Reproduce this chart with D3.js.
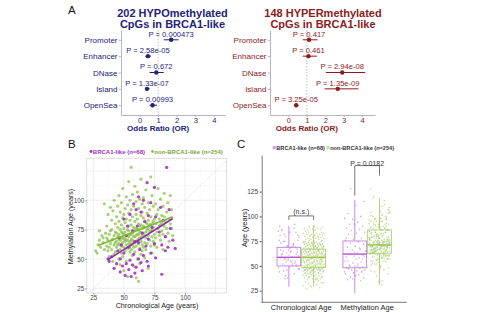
<!DOCTYPE html>
<html><head><meta charset="utf-8">
<script src="https://cdn.jsdelivr.net/npm/d3@7"></script>
<style>body{margin:0;background:#fff}svg{display:block;font-family:"Liberation Sans",Arial,sans-serif}</style>
</head><body>
<script>
// ---------- Panel A data ----------
const regions = ["Promoter","Enhancer","DNase","Island","OpenSea"];
const hypoOR = [1.70, 0.45, 0.90, 0.40, 0.70];
const hypoLo = [1.30, 0.31, 0.54, 0.31, 0.54];
const hypoHi = [2.10, 0.61, 1.30, 0.54, 0.94];
const hypoP  = ["0.000473","2.58e-05","0.672","1.33e-07","0.00993"];
const hyperOR = [1.12, 1.09, 2.92, 2.68, 0.42];
const hyperLo = [0.78, 0.78, 2.03, 1.96, 0.30];
const hyperHi = [1.58, 1.55, 4.17, 3.80, 0.55];
const hyperP  = ["0.417","0.461","2.94e-08","1.35e-09","3.25e-05"];
const orTicks = [0,1,2,3,4];

// ---------- Panel B data: [chronological age, methylation age] ----------
const brca1Pts = [[85,128],[69,115],[75,111],[62,103],[66,100],[58,97],[72,98],[80,94],[60,92],[64,90],[87,92],[55,88],[70,87],[76,86],[50,84],[82,83],[67,82],
[61,78],[73,77],[88,76],[57,74],[79,73],[65,72],[52,70],[84,69],[70,67],[90,66],[59,65],[75,63],[81,62],[68,61],[86,60],[92,59],[63,58],[48,62],[54,60],
[45,57],[50,55],[58,54],[66,53],[72,55],[40,52],[47,50],[55,49],[62,50],[69,48],[38,48],[44,46],[52,46],[57,45],[64,47],[49,44],[60,43],[42,42],[54,41],[47,39],
[59,38],[65,40],[51,36],[56,35],[81,37],[70,44],[37,50],[76,51],[84,57],[62,64],[53,78],[46,68]];
const nonPts = [[27,57],[28,55],[29,62],[30,66],[31,60],[32,70],[33,64],[34,97],[34,58],[35,72],[30,74],[33,68],
[36,61],[36,78],[37,66],[37,88],[38,52],[38,71],[39,63],[39,94],[40,58],[40,75],[40,83],[41,67],[41,91],[41,48],[42,62],[42,70],[42,100],[43,56],[43,73],[43,80],[44,65],[44,86],[44,60],[45,69],[45,77],[45,95],[36,68],[38,60],[39,74],[40,66],[42,54],[43,64],[44,72],[45,62],[37,57],
[46,50],[46,63],[46,71],[46,82],[46,104],[47,58],[47,66],[47,75],[47,90],[47,45],[48,61],[48,68],[48,79],[48,98],[48,55],[49,64],[49,72],[49,85],[49,110],[49,52],[50,60],[50,67],[50,76],[50,88],[50,40],[51,57],[51,65],[51,73],[51,93],[51,81],[52,62],[52,70],[52,84],[52,103],[52,48],[53,59],[53,66],[53,75],[53,96],[53,35],[54,63],[54,69],[54,78],[54,89],[54,116],[55,56],[55,71],[55,83],[55,100],[55,61],[46,67],[47,62],[48,73],[49,68],[50,71],[51,68],[52,66],[53,70],[54,74],[55,65],
[56,58],[56,67],[56,79],[56,92],[56,128],[57,62],[57,72],[57,86],[57,105],[57,53],[58,60],[58,69],[58,77],[58,95],[58,44],[59,64],[59,74],[59,82],[59,112],[59,56],[60,61],[60,70],[60,88],[60,99],[60,34],[61,66],[61,75],[61,84],[61,107],[61,50],[62,63],[62,71],[62,80],[62,93],[62,31],[63,59],[63,68],[63,78],[63,101],[63,46],[64,65],[64,73],[64,87],[64,118],[64,54],[65,62],[65,76],[65,90],[65,97],[65,57],[56,71],[57,66],[58,74],[59,69],[60,76],[61,71],[62,67],[63,73],[64,79],[65,70],[58,64],[60,65],[62,75],[64,68],[56,63],
[66,60],[66,72],[66,85],[66,102],[67,64],[67,77],[67,94],[67,51],[68,68],[68,81],[68,109],[68,58],[69,63],[69,75],[69,89],[70,70],[70,83],[70,98],[70,42],[71,66],[71,79],[71,92],[72,61],[72,74],[72,86],[72,120],[73,69],[73,80],[73,104],[73,55],[74,65],[74,77],[74,95],[75,71],[75,84],[75,62],[66,78],[67,70],[69,80],[70,76],[71,73],[72,79],[73,75],[74,82],[68,73],
[76,68],[76,80],[76,97],[77,73],[77,88],[77,60],[78,76],[78,92],[78,110],[79,70],[79,84],[80,66],[80,79],[80,101],[81,74],[81,87],[82,71],[82,95],[82,58],[83,78],[83,106],[84,82],[84,69],[85,90],[85,76],[79,78],[81,81],[83,86],
[86,72],[86,98],[87,84],[87,65],[88,80],[88,104],[89,76],[89,92],[90,70]];
const fitBrca1 = [[37,49.5],[90,84.5]];
const fitNon   = [[29,61.5],[90,86]];
const ageTicks = [25,50,75,100];

// ---------- Panel C data ----------
const ageGroups = ["Chronological Age","Methylation Age"];
// [lower whisker, Q1, median, Q3, upper whisker]
const boxBrca1 = [[29,50,58.7,68.8,90.4],[22.4,48.2,62,75.2,116.6]];
const boxNon   = [[29,48.6,58.7,67,91],[30.7,62.8,71.2,86.3,118]];
const cTicks = [25,50,75,100,125];

const PURPLE = "#a032c4", GREEN = "#8cc04c";
const FF = "Liberation Sans, Arial, sans-serif";
const svg = d3.select("body").append("svg").attr("width",477).attr("height",312);

// panel letters
[["A",68,14],["B",68,148],["C",237,148]].forEach(([t,x,y])=>
  svg.append("text").attr("x",x).attr("y",y).attr("font-size",11.5).attr("fill","#111").text(t));

// ---------- Panel A ----------
function forest(o){
  const g = svg.append("g");
  const x = d3.scaleLinear().domain(o.xdom).range(o.xr);
  const y = d3.scaleLinear().domain([0.4,5.6]).range([115,30]);
  const pos = i => y(5-i);
  g.append("text").attr("x",o.tx).attr("y",16.7).attr("text-anchor","middle").attr("font-size",11).attr("font-weight","bold").attr("fill",o.col).text(o.t1);
  g.append("text").attr("x",o.tx).attr("y",27.5).attr("text-anchor","middle").attr("font-size",11).attr("font-weight","bold").attr("fill",o.col).text(o.t2);
  g.append("line").attr("x1",x(1)).attr("x2",x(1)).attr("y1",30).attr("y2",115).attr("stroke","#aaa").attr("stroke-width",0.7).attr("stroke-dasharray","1.5,1.5");
  const ya = g.append("g").attr("transform",`translate(${o.xr[0]},0)`)
    .call(d3.axisLeft(y).tickValues([1,2,3,4,5]).tickFormat(v=>regions[5-v]).tickSize(2).tickSizeOuter(0).tickPadding(1.5));
  const xa = g.append("g").attr("transform","translate(0,115)")
    .call(d3.axisBottom(x).tickValues(orTicks).tickFormat(d3.format("d")).tickSize(2).tickSizeOuter(0).tickPadding(0.5));
  [ya,xa].forEach(a=>{
    a.selectAll("path,line").attr("stroke","#b8b4c4");
    a.selectAll("text").attr("font-size",8).attr("fill",o.col).attr("font-family",FF);
  });
  xa.selectAll("text").attr("font-size",7.6);
  g.append("text").attr("x",x(1)).attr("y",131).attr("text-anchor","middle").attr("font-size",8).attr("font-weight","bold").attr("fill",o.col).text("Odds Ratio (OR)");
  regions.forEach((r,i)=>{
    g.append("line").attr("x1",x(o.lo[i])).attr("x2",x(o.hi[i])).attr("y1",pos(i)).attr("y2",pos(i)).attr("stroke",o.col).attr("stroke-width",1);
    g.append("circle").attr("cx",x(o.or[i])).attr("cy",pos(i)).attr("r",2.2).attr("fill",o.col);
    g.append("text").attr("x",x(o.or[i])).attr("y",pos(i)-3.3).attr("text-anchor","middle").attr("font-size",7.6).attr("fill",o.col).text("P = "+o.p[i]);
  });
}
forest({xdom:[-1,4.6],xr:[121,225],col:"#23237a",t1:"202 HYPOmethylated",t2:"CpGs in BRCA1-like",tx:172.5,or:hypoOR,lo:hypoLo,hi:hypoHi,p:hypoP});
forest({xdom:[-1,4.7],xr:[270,375],col:"#8b1c1c",t1:"148 HYPERmethylated",t2:"CpGs in BRCA1-like",tx:323,or:hyperOR,lo:hyperLo,hi:hyperHi,p:hyperP});

// ---------- Panel B ----------
{
  const g = svg.append("g");
  const x = d3.scaleLinear().domain([19.6,134.1]).range([86.7,226.7]);
  const y = d3.scaleLinear().domain([21,135.8]).range([293,158.3]);
  [37.5,62.5,87.5,112.5].forEach(v=>{
    g.append("line").attr("x1",x(v)).attr("x2",x(v)).attr("y1",158.3).attr("y2",293).attr("stroke","#f4f4f4").attr("stroke-width",0.5);
    g.append("line").attr("y1",y(v)).attr("y2",y(v)).attr("x1",86.7).attr("x2",226.7).attr("stroke","#f4f4f4").attr("stroke-width",0.5);
  });
  [25,50,75,100,125].forEach(v=>{
    g.append("line").attr("x1",x(v)).attr("x2",x(v)).attr("y1",158.3).attr("y2",293).attr("stroke","#ebebeb").attr("stroke-width",0.8);
    g.append("line").attr("y1",y(v)).attr("y2",y(v)).attr("x1",86.7).attr("x2",226.7).attr("stroke","#ebebeb").attr("stroke-width",0.8);
  });
  g.append("line").attr("x1",x(21)).attr("y1",y(21)).attr("x2",x(134)).attr("y2",y(134)).attr("stroke","#c8c8c8").attr("stroke-width",0.7).attr("stroke-dasharray","1,1.5");
  g.append("rect").attr("x",86.7).attr("y",158.3).attr("width",140).attr("height",134.7).attr("fill","none").attr("stroke","#d6d6d6").attr("stroke-width",0.8);
  g.selectAll(".pn").data(nonPts).join("circle").attr("cx",d=>x(d[0])).attr("cy",d=>y(d[1])).attr("r",1.6).attr("fill",GREEN).attr("fill-opacity",0.75);
  g.selectAll(".pb").data(brca1Pts).join("circle").attr("cx",d=>x(d[0])).attr("cy",d=>y(d[1])).attr("r",1.6).attr("fill",PURPLE).attr("fill-opacity",0.9);
  const ln = d3.line().x(d=>x(d[0])).y(d=>y(d[1]));
  g.append("path").attr("d",ln(fitNon)).attr("stroke","#7dba30").attr("stroke-width",1.6).attr("fill","none");
  g.append("path").attr("d",ln(fitBrca1)).attr("stroke","#8e2db2").attr("stroke-width",1.6).attr("fill","none");
  const ya = g.append("g").attr("transform","translate(86.7,0)").call(d3.axisLeft(y).tickValues(ageTicks).tickSize(1.5).tickPadding(1));
  const xa = g.append("g").attr("transform","translate(0,293)").call(d3.axisBottom(x).tickValues(ageTicks).tickSize(1.5).tickPadding(0.8));
  [ya,xa].forEach(a=>{a.select(".domain").remove();a.selectAll("line").attr("stroke","#999");
    a.selectAll("text").attr("font-size",6.3).attr("fill","#444").attr("font-family",FF);});
  g.append("text").attr("x",157).attr("y",308.3).attr("text-anchor","middle").attr("font-size",7.2).attr("fill","#222").text("Chronological Age (years)");
  g.append("text").attr("transform","translate(73,226.5) rotate(-90)").attr("text-anchor","middle").attr("font-size",7.2).attr("fill","#222").text("Methylation Age (years)");
  const lg = g.append("g").attr("font-size",6).attr("font-weight","bold");
  lg.append("circle").attr("cx",91).attr("cy",151.5).attr("r",1.4).attr("fill",PURPLE);
  lg.append("text").attr("x",92.8).attr("y",153.6).attr("fill",PURPLE).text("BRCA1-like (n=68)");
  lg.append("circle").attr("cx",152.5).attr("cy",151.5).attr("r",1.4).attr("fill",GREEN);
  lg.append("text").attr("x",154.3).attr("y",153.6).attr("fill","#7aa83e").text("non-BRCA1-like (n=254)");
}

// ---------- Panel C ----------
{
  const g = svg.append("g");
  const x = d3.scaleLinear().domain([0.4,2.6]).range([261.7,406.7]);
  const y = d3.scaleLinear().domain([13.3,162]).range([302.3,155]);
  const hw = 0.1875, off = 0.1875;
  const cols = [{line:"#c77ddd",med:"#b455d0",pt:"#b96ad2"},{line:"#add06e",med:"#9cc152",pt:"#9cc45a"}];
  const sets = [[brca1Pts.map(d=>d[0]), nonPts.map(d=>d[0])],[brca1Pts.map(d=>d[1]), nonPts.map(d=>d[1])]];
  ageGroups.forEach((grp,gi)=>{
    [boxBrca1,boxNon].forEach((bx,si)=>{
      const cx = gi+1 + (si===0?-off:off);
      const s = bx[gi], c = cols[si];
      g.append("line").attr("x1",x(cx)).attr("x2",x(cx)).attr("y1",y(s[0])).attr("y2",y(s[1])).attr("stroke",c.line).attr("stroke-width",0.9);
      g.append("line").attr("x1",x(cx)).attr("x2",x(cx)).attr("y1",y(s[3])).attr("y2",y(s[4])).attr("stroke",c.line).attr("stroke-width",0.9);
      g.append("rect").attr("x",x(cx-hw)+0.5).attr("width",x(cx+hw)-x(cx-hw)-1).attr("y",y(s[3])).attr("height",y(s[1])-y(s[3]))
        .attr("fill","none").attr("stroke",c.line).attr("stroke-width",0.9);
      g.append("line").attr("x1",x(cx-hw)+0.5).attr("x2",x(cx+hw)-0.5).attr("y1",y(s[2])).attr("y2",y(s[2])).attr("stroke",c.med).attr("stroke-width",1.4);
      sets[gi][si].forEach((v,k)=>{
        const j = (((k*0.6180339887 + gi*0.31 + si*0.17) % 1) - 0.5) * 0.32;
        g.append("circle").attr("cx",x(cx+j)).attr("cy",y(v)).attr("r",0.8).attr("fill",c.pt).attr("fill-opacity",0.6);
      });
    });
  });
  const ya = g.append("g").attr("transform","translate(261.7,0)").call(d3.axisLeft(y).tickValues(cTicks).tickSize(2).tickSizeOuter(0).tickPadding(1.5));
  ya.select(".domain").attr("stroke","#555").attr("stroke-width",0.8);
  ya.selectAll("line").attr("stroke","#555");
  ya.selectAll("text").attr("font-size",6.6).attr("fill","#444").attr("font-family",FF);
  g.append("line").attr("x1",261.7).attr("x2",406.7).attr("y1",302.3).attr("y2",302.3).attr("stroke","#555").attr("stroke-width",0.8);
  ageGroups.forEach((grp,gi)=>g.append("text").attr("x",x(gi+1)).attr("y",309.8).attr("text-anchor","middle").attr("font-size",7.5).attr("fill","#222").text(grp));
  g.append("text").attr("transform","translate(247,228) rotate(-90)").attr("text-anchor","middle").attr("font-size",7.4).attr("fill","#222").text("Age (years)");
  const br = (gi,yb,yl,yr,label,ty)=>{
    const x1 = x(gi+1-off), x2 = x(gi+1+off);
    g.append("path").attr("d",`M${x1},${y(yl)}V${y(yb)}H${x2}V${y(yr)}`).attr("fill","none").attr("stroke","#666").attr("stroke-width",0.9);
    g.append("text").attr("x",(x1+x2)/2).attr("y",ty).attr("text-anchor","middle").attr("font-size",7).attr("fill","#333").text(label);
  };
  br(0,100.5,96.5,96.5,"(n.s.)",213.8);
  br(1,151.3,121,141.2,"P = 0.0182",165.6);
  const lg = g.append("g").attr("font-size",5.6).attr("font-weight","bold").attr("fill","#333");
  lg.append("rect").attr("x",272.6).attr("y",146.2).attr("width",3).attr("height",3).attr("fill","#cf94e3");
  lg.append("text").attr("x",276.3).attr("y",149.8).text("BRCA1-like (n=68)");
  lg.append("rect").attr("x",326.5).attr("y",146.2).attr("width",3).attr("height",3).attr("fill","#c3de98");
  lg.append("text").attr("x",330.2).attr("y",149.8).text("non-BRCA1-like (n=254)");
}
</script>
</body></html>
